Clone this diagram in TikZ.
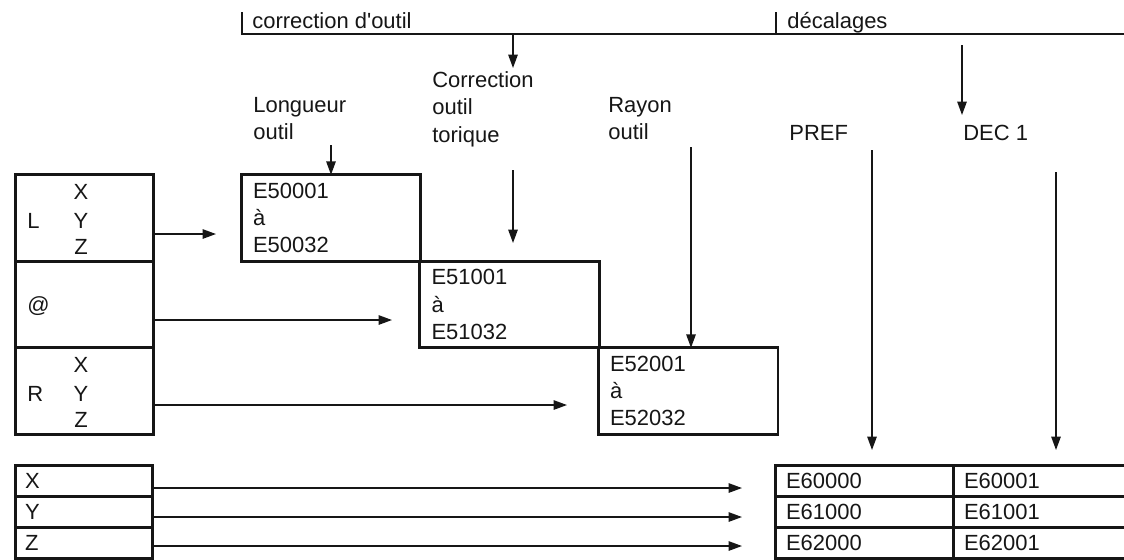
\documentclass[tikz,border=0pt]{standalone}
\usepackage{fontspec}
\setmainfont{Liberation Sans}
\usetikzlibrary{arrows.meta}
\definecolor{ink}{HTML}{161616}

\begin{document}
\begin{tikzpicture}[x=0.02cm,y=-0.02cm,
  every node/.style={font=\fontsize{12.5}{15.6}\selectfont,text=ink},
  lbl/.style={inner sep=0pt},
  arr/.style={draw=ink,line width=0.85pt,-{Triangle[length=0.27cm,width=0.19cm]}},
  regbox/.style={draw=ink,line width=1.7pt,outer sep=0pt,minimum width=2.78cm,minimum height=1.73cm},
  ebox/.style={draw=ink,line width=1.7pt,outer sep=0pt,text width=3.12cm,inner xsep=0.24cm,minimum height=1.73cm,align=left},
  axrow/.style={draw=ink,line width=1.7pt,outer sep=0pt,text width=2.36cm,inner xsep=0.2cm,inner ysep=0pt,minimum height=0.62cm,align=left},
  cell/.style={draw=ink,line width=1.7pt,outer sep=0pt,text width=3.12cm,inner xsep=0.22cm,inner ysep=0pt,minimum height=0.62cm,align=left}]
  \useasboundingbox (0,0) rectangle (1124,559);
  % bracket on top
  \draw[ink,line width=0.8pt] (242,12) -- (242,34) -- (1130,34);
  \draw[ink,line width=0.8pt] (776,12) -- (776,34);
  \node[lbl,anchor=base west] (corrtxt) at (252,28) {correction d\textquotesingle outil};
  \node[lbl,anchor=base west] (dectxt) at (787,28) {décalages};
  % column titles
  \node[lbl,anchor=north west,align=left] (lng) at (253,97) {Longueur\\outil};
  \node[lbl,anchor=north west,align=left] (tor) at (432,71) {Correction\\outil\\torique};
  \node[lbl,anchor=north west,align=left] (ray) at (608,97) {Rayon\\outil};
  \node[lbl,anchor=base west] (pref) at (789,140) {PREF};
  \node[lbl,anchor=base west] (dec) at (963,140) {DEC 1};
  % registers on the left
  \node[regbox] (lreg) at (84.5,218) {};
  \node[regbox] (areg) at (84.5,304.5) {};
  \node[regbox] (rreg) at (84.5,391) {};
  \node[lbl,anchor=base west] (lname) at (27,228) {L};
  \node[lbl,anchor=west] (aname) at (27,306) {@};
  \node[lbl,anchor=base west] (rname) at (27,401) {R};
  \foreach \a/\y in {X/199,Y/228,Z/254}{
    \node[lbl,anchor=base] (l\a) at (81,\y) {\a};
    \node[lbl,anchor=base] (r\a) at (81,\y+173) {\a};}
  % staircase of correctors
  \node[ebox] (e50) at (331,218) {E50001\\à\\E50032};
  \node[ebox] (e51) at (509.5,304.5) {E51001\\à\\E51032};
  \node[ebox] (e52) at (688,391) {E52001\\à\\E52032};
  % axes and offset table
  \foreach \a/\y in {X/481,Y/512,Z/543}{\node[axrow] (b\a) at (84,\y) {\a};}
  \foreach \a/\y in {0/481,1/512,2/543}{
    \node[cell] (p\a) at (864,\y) {E6\a000};
    \node[cell] (d\a) at (1042,\y) {E6\a001};}
  % arrows
  \coordinate (c0) at (513,34); \coordinate (c1) at (513,68);
  \draw[arr] (c0) -- (c1);
  \coordinate (k0) at (962,45); \coordinate (k1) at (962,115);
  \draw[arr] (k0) -- (k1);
  \coordinate (lng0) at (331,145);
  \draw[arr] (lng0) -- (e50.north);
  \coordinate (tor0) at (513,170); \coordinate (tor1) at (513,243);
  \draw[arr] (tor0) -- (tor1);
  \coordinate (ray0) at (691,147);
  \draw[arr] (ray0) -- (ray0 |- e52.north);
  \coordinate (pref0) at (872,150); \coordinate (pref1) at (872,450);
  \draw[arr] (pref0) -- (pref1);
  \coordinate (dec0) at (1056,172); \coordinate (dec1) at (1056,450);
  \draw[arr] (dec0) -- (dec1);
  \coordinate (ltip) at (216,234); \coordinate (atip) at (392,320); \coordinate (rtip) at (567,405);
  \draw[arr] (lreg.east |- ltip) -- (ltip);
  \draw[arr] (areg.east |- atip) -- (atip);
  \draw[arr] (rreg.east |- rtip) -- (rtip);
  \foreach \a/\y in {X/488,Y/517,Z/546}{
    \coordinate (t\a) at (742,\y);
    \draw[arr] (b\a.east |- t\a) -- (t\a);}
\end{tikzpicture}
\end{document}
